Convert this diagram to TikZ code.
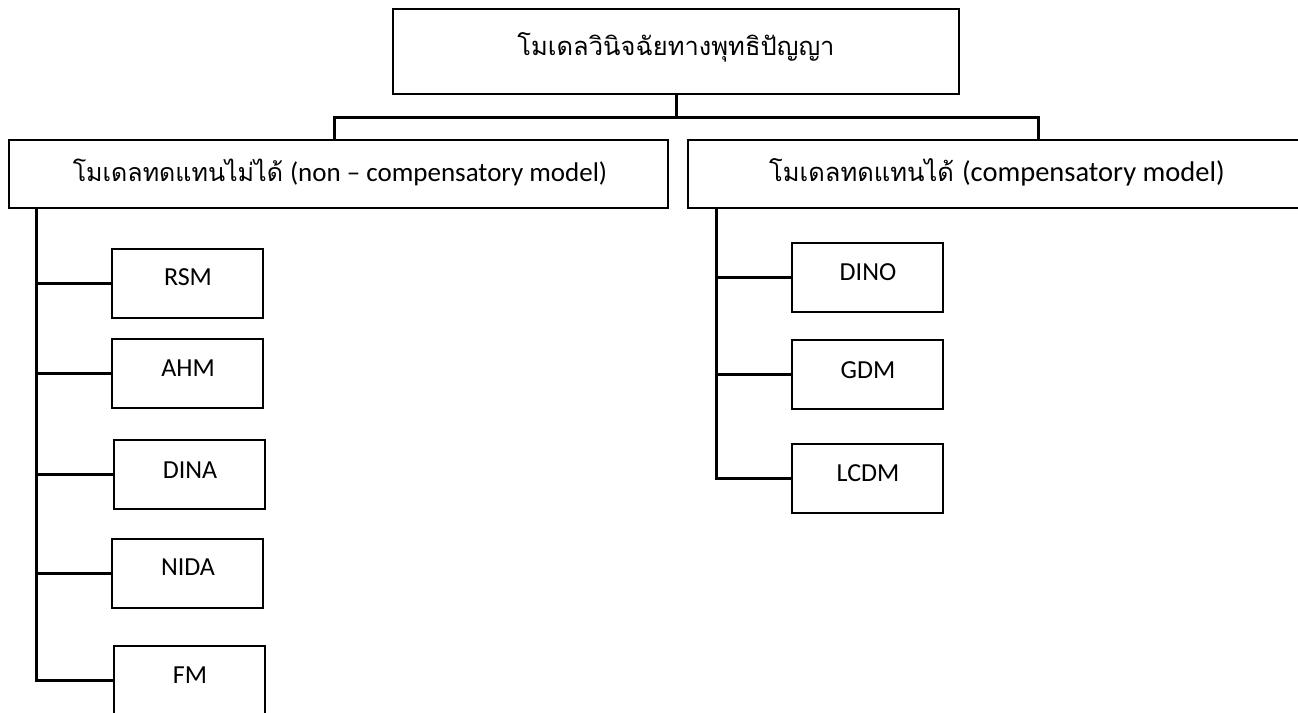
\documentclass[tikz,border=0pt]{standalone}
\usepackage{fontspec}
\setmainfont{Carlito}
\newfontfamily\thaifont[Script=Thai]{Loma}
\begin{document}
\begin{tikzpicture}[x=1pt,y=-1pt,
  boxstyle/.style={draw=black, line width=1.8pt, fill=white, inner sep=0pt},
  leafbox/.style={boxstyle, minimum width=151pt, minimum height=69pt},
  leaflabel/.style={font=\fontsize{26}{30}\selectfont, inner sep=0pt},
  conn/.style={draw=black, line width=3pt},
  thaitext/.style={font=\thaifont\fontsize{25.5}{30}\selectfont, inner sep=0pt}]
\useasboundingbox (0,0) rectangle (1298,712);
\clip (0,0) rectangle (1298,712);
\fill[white] (0,0) rectangle (1298,712);
% top box
\node[boxstyle, minimum width=566pt, minimum height=85pt] (top) at (676,51.5) {};
\node[thaitext] (toplbl) at (676,47) {โมเดลวินิจฉัยทางพุทธิปัญญา};
% second level
\node[boxstyle, minimum width=659pt, minimum height=68pt] (lbox) at (338.5,174) {};
\node[inner sep=0pt] (lboxlbl) at (340,172) {{\thaifont\fontsize{25}{30}\selectfont โมเดลทดแทนไม่ได้}\hspace{7pt}{\fontsize{27}{30}\selectfont (non – compensatory model)}};
\node[boxstyle, minimum width=620pt, minimum height=68pt] (rbox) at (998,174) {};
\node[inner sep=0pt] (rboxlbl) at (997,172) {{\thaifont\fontsize{25.5}{30}\selectfont โมเดลทดแทนได้}\hspace{8pt}{\fontsize{28.5}{32}\selectfont (compensatory model)}};
% junction coordinates
\coordinate (jl) at (334,117);
\coordinate (jr) at (1038,117);
\coordinate (lv) at (36,0);
\coordinate (rv) at (716,0);
\draw[conn] (top.south) -- (top.south |- jl);
\draw[conn, line cap=rect] (lbox.north -| jl) -- (jl) -- (jr) -- (rbox.north -| jr);
% left leaves
\node[leafbox] (rsm) at (187.5,283.5) {};
\node[leafbox] (ahm) at (187.5,373.5) {};
\node[leafbox] (dina) at (189.5,474.5) {};
\node[leafbox] (nida) at (187.5,573.5) {};
\node[leafbox] (fm) at (189.5,680.5) {};
\node[leaflabel] (rsml) at (188,277) {RSM};
\node[leaflabel] (ahml) at (188,368) {AHM};
\node[leaflabel] (dinal) at (190,470) {DINA};
\node[leaflabel] (nidal) at (188,567) {NIDA};
\node[leaflabel] (fml) at (190,675) {FM};
\draw[conn] (lbox.south -| lv) |- (fm.west);
\draw[conn] (lv |- rsm.west) -- (rsm.west);
\draw[conn] (lv |- ahm.west) -- (ahm.west);
\draw[conn] (lv |- dina.west) -- (dina.west);
\draw[conn] (lv |- nida.west) -- (nida.west);
% right leaves
\node[leafbox] (dino) at (867.5,277.5) {};
\node[leafbox] (gdm) at (867.5,374.5) {};
\node[leafbox] (lcdm) at (867.5,478.5) {};
\node[leaflabel] (dinol) at (868,272) {DINO};
\node[leaflabel] (gdml) at (868,370) {GDM};
\node[leaflabel] (lcdml) at (868,473) {LCDM};
\draw[conn] (rbox.south -| rv) |- (lcdm.west);
\draw[conn] (rv |- dino.west) -- (dino.west);
\draw[conn] (rv |- gdm.west) -- (gdm.west);
\end{tikzpicture}
\end{document}
